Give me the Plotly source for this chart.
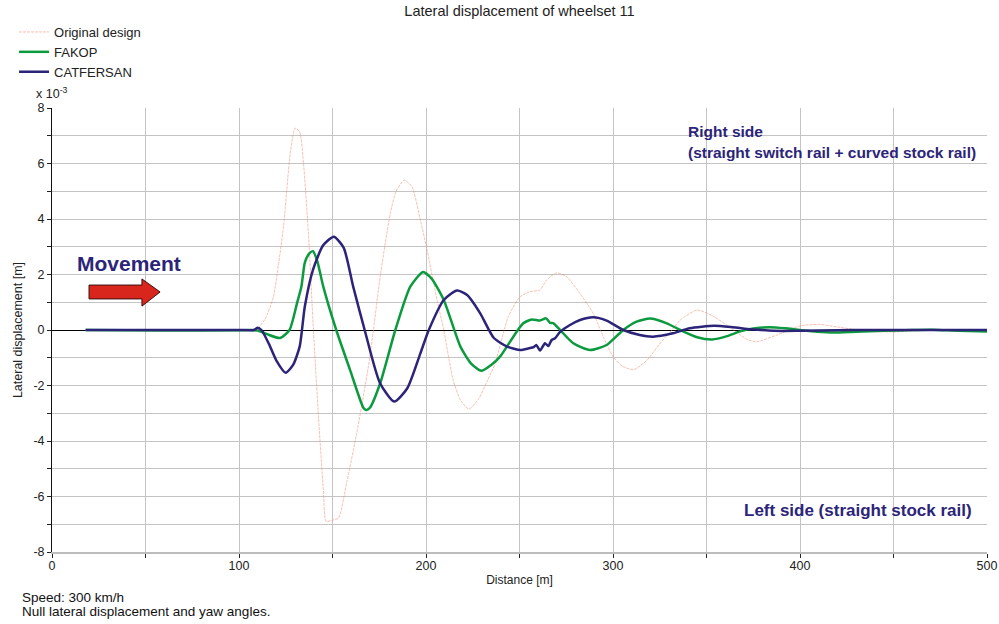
import plotly.graph_objects as go

# Distance [m]
orig_x = [18, 100, 110, 114, 118.4, 121, 123.8, 127.4, 130, 132.4, 134.5, 137.1, 139.8, 142.5, 145.1, 146.6,
          150, 153.2, 157.6, 163, 169.2, 171.9, 175.5, 180.9, 184, 188.4, 192.5, 197, 200.6, 205.9, 209.5,
          214.5, 218.4, 222.9, 228, 233, 237, 244, 250.3, 255.6, 260.9, 264.5, 269.8, 275.2, 282.3, 289.4,
          294.8, 300, 305, 311, 318, 325.3, 331.5, 336, 345, 354, 363, 372, 377, 388, 400, 410.7, 421, 436,
          450, 470, 500]
# Lateral displacement [x 10^-3 m]
orig_y = [0, 0, 0.07, 0.4, 1.2, 2.3, 3.72, 6.36, 7.27, 7.15, 6.0, 3.5, 0, -3.12, -5.76, -6.9,
          -6.85, -6.78, -5.5, -3.7, -1.32, 0, 1.92, 4.2, 5.0, 5.4, 5.16, 3.96, 2.88, 1.08, 0,
          -1.8, -2.52, -2.85, -2.5, -1.8, -1.2, 0.48, 1.2, 1.38, 1.44, 1.8, 2.06, 1.92, 1.32, 0.6,
          -0.24, -0.96, -1.3, -1.43, -1.1, -0.47, 0, 0.36, 0.72, 0.48, 0.07, -0.35, -0.42, -0.17, 0.15, 0.2, 0.1, -0.04,
          -0.07, 0, 0]

fakop_x = [18, 60, 100, 106, 110, 115, 122, 127, 131, 133.4, 135.2, 137.5, 139.6, 142, 145, 152, 159.3,
           166.5, 168, 170, 175.5, 183.6, 191.6, 198.4, 203, 209.5, 218.4, 224, 229.5, 235, 239.6, 246.7,
           252, 256.5, 261, 264.2, 266.3, 268, 271.7, 278.8, 287.7, 296.6, 305.5, 312.6, 319.8, 328.8, 336,
           345, 353, 361, 368, 376, 384, 392, 400, 409, 418, 430, 445, 460, 471, 485, 500]
fakop_y = [0, -0.02, -0.01, 0, -0.02, -0.15, -0.29, 0, 0.96, 1.58, 2.43, 2.75, 2.84, 2.45, 1.58, 0, -1.42,
           -2.8, -2.88, -2.8, -1.92, 0, 1.56, 2.09, 1.85, 1.08, -0.6, -1.2, -1.47, -1.25, -0.96, -0.24,
           0.24, 0.38, 0.34, 0.42, 0.26, 0.25, 0, -0.48, -0.72, -0.54, 0, 0.3, 0.41, 0.24, 0,
           -0.26, -0.34, -0.22, -0.05, 0.06, 0.1, 0.06, 0, -0.06, -0.09, -0.06, -0.03, 0, 0.01, -0.03, -0.05]

cat_x = [18, 60, 100, 108, 110, 112, 116, 120, 125, 129, 132.5, 135.2, 139.6, 145, 150.7, 156, 161, 167.2,
         175.3, 183, 190, 197, 201.5, 209.5, 216.6, 222, 229, 236.2, 243.4, 250.5, 255, 257.6, 259, 261,
         263.6, 265.4, 267.2, 269, 271.8, 277, 282.4, 289.4, 296.6, 305.5, 314.3, 321.4, 332, 341, 354,
         364, 373.7, 386, 400, 420, 436, 460, 500]
cat_y = [0, 0, 0, 0, 0.08, 0, -0.5, -1.1, -1.54, -1.25, -0.58, 0.85, 2.18, 3.05, 3.36, 2.96, 1.58, 0,
         -1.9, -2.58, -2.1, -0.84, 0, 1.08, 1.42, 1.26, 0.6, -0.28, -0.6, -0.72, -0.66, -0.62, -0.54, -0.74,
         -0.48, -0.58, -0.36, -0.3, -0.06, 0.18, 0.36, 0.46, 0.34, 0, -0.18, -0.24, -0.12, 0.06, 0.15,
         0.1, 0.03, -0.03, -0.03, -0.01, 0, 0, 0]

x_ticks = [0, 100, 200, 300, 400, 500]
y_ticks = [-8, -6, -4, -2, 0, 2, 4, 6, 8]
y_tick_text = ["-8", "-6", "-4", "-2", "0", "2", "4", "6", "8"]

# Movement arrow outline (data units)
arrow_x = [19.8, 48.1, 48.1, 57.8, 48.1, 48.1, 19.8]
arrow_y = [1.62, 1.62, 1.84, 1.37, 0.86, 1.12, 1.12]

NAVY = "#2b2479"
GREEN = "#0c9a3e"
FONT = "Liberation Sans, Arial, sans-serif"

fig = go.Figure()
fig.add_trace(go.Scatter(x=orig_x, y=orig_y, mode="lines", name="Original design",
                         line=dict(color="rgba(240,140,110,0.55)", width=1, dash="3px,1px", shape="spline", smoothing=0.6)))
fig.add_trace(go.Scatter(x=fakop_x, y=fakop_y, mode="lines", name="FAKOP",
                         line=dict(color=GREEN, width=2.5, shape="spline", smoothing=0.6)))
fig.add_trace(go.Scatter(x=cat_x, y=cat_y, mode="lines", name="CATFERSAN",
                         line=dict(color=NAVY, width=2.5, shape="spline", smoothing=0.6)))

path = "M " + " L ".join(f"{a},{b}" for a, b in zip(arrow_x, arrow_y)) + " Z"
fig.add_shape(type="path", path=path, xref="x", yref="y", fillcolor="#d9261c",
              line=dict(color="#3a1010", width=1))

fig.update_layout(
    width=999, height=624,
    margin=dict(l=52, r=12, t=108, b=72, autoexpand=False),
    paper_bgcolor="white", plot_bgcolor="white",
    font=dict(family=FONT, size=12, color="#222"),
    title=dict(text="Lateral displacement of wheelset 11", x=0.52, xanchor="center",
               y=0.99, yanchor="top", font=dict(size=14.5, color="#222")),
    showlegend=True,
    legend=dict(xref="paper", yref="paper", x=-0.0406, y=1.205, xanchor="left", yanchor="top",
                font=dict(size=13), bgcolor="rgba(0,0,0,0)", tracegroupgap=0, itemwidth=30),
    xaxis=dict(range=[0, 500], tickvals=x_ticks, showgrid=True, gridcolor="#c4c4c4", gridwidth=1,
               minor=dict(dtick=50, showgrid=True, gridcolor="#c4c4c4", ticks="outside", ticklen=4, tickcolor="#222"),
               ticks="outside", ticklen=4, tickcolor="#222", ticklabelstandoff=-3, tickfont=dict(size=12.5),
               showline=True, linecolor="#bdbdbd", linewidth=1.5, mirror=False, zeroline=False,
               title=dict(text="Distance [m]", font=dict(size=12), standoff=4)),
    yaxis=dict(range=[-8, 8], tickvals=y_ticks, ticktext=y_tick_text, showgrid=True, gridcolor="#c4c4c4", gridwidth=1,
               minor=dict(dtick=1, showgrid=True, gridcolor="#c4c4c4", ticks="outside", ticklen=4, tickcolor="#222"),
               ticks="outside", ticklen=4, tickcolor="#222", tickfont=dict(size=12.5),
               showline=True, linecolor="#111", linewidth=1, zeroline=True, zerolinecolor="#000", zerolinewidth=1,
               title=dict(text="Lateral displacement [m]", font=dict(size=12.5), standoff=8)),
)

fig.add_annotation(text="x 10<sup>-3</sup>", xref="paper", yref="paper", x=0.0, y=1.012,
                   xanchor="center", yanchor="bottom", showarrow=False, font=dict(size=12.5))
fig.add_annotation(text="<b>Movement</b>", x=12.5, y=2.4, xref="x", yref="y", xanchor="left", yanchor="middle",
                   showarrow=False, font=dict(size=21, color=NAVY))
fig.add_annotation(text="<b>Right side</b>", x=339.1, y=7.14, xref="x", yref="y", xanchor="left", yanchor="middle",
                   showarrow=False, font=dict(size=15.5, color=NAVY))
fig.add_annotation(text="<b>(straight switch rail + curved stock rail)</b>", x=339.1, y=6.41, xref="x", yref="y",
                   xanchor="left", yanchor="middle", showarrow=False, font=dict(size=15.5, color=NAVY))
fig.add_annotation(text="<b>Left side (straight stock rail)</b>", x=493.3, y=-6.52, xref="x", yref="y",
                   xanchor="right", yanchor="middle", showarrow=False, font=dict(size=17, color=NAVY))
fig.add_annotation(text="Speed: 300 km/h", xref="paper", yref="paper", x=-0.0342, y=-0.1036,
                   xanchor="left", yanchor="middle", showarrow=False, font=dict(size=13.5, color="#111"))
fig.add_annotation(text="Null lateral displacement and yaw angles.", xref="paper", yref="paper", x=-0.0342, y=-0.1351,
                   xanchor="left", yanchor="middle", showarrow=False, font=dict(size=13.5, color="#111"))

fig.write_html("out.html")
